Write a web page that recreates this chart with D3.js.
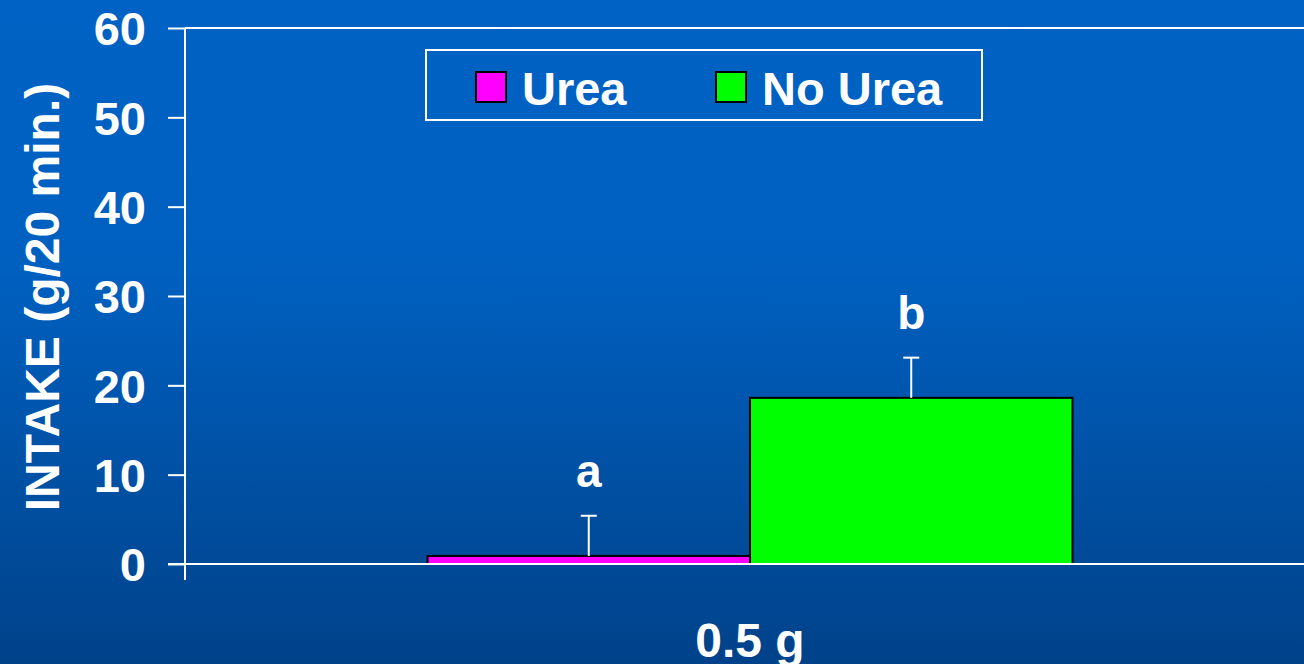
<!DOCTYPE html>
<html>
<head>
<meta charset="utf-8">
<script src="https://cdn.jsdelivr.net/npm/d3@7"></script>
<style>
  html, body { margin: 0; padding: 0; overflow: hidden; }
  svg { display: block; }
  text { font-family: "Liberation Sans", Arial, sans-serif; font-weight: bold; fill: #fff; }
</style>
</head>
<body>
<svg id="chart" width="1304" height="664"></svg>
<script>
// Intake per 20 min for the 0.5 g dose, with and without urea
const categories = ["0.5 g"];
const series = ["Urea", "No Urea"];
const means = [0.9, 18.6];
const errors = [4.5, 4.5];
const letters = ["a", "b"];
const yTicks = [0, 10, 20, 30, 40, 50, 60];
const colors = ["#ff00ff", "#00ff00"];

const W = 1304, H = 664;
const svg = d3.select("#chart");

// background gradient
const defs = svg.append("defs");
const grad = defs.append("linearGradient").attr("id", "bg")
  .attr("x1", 0).attr("y1", 0).attr("x2", 0).attr("y2", 1);
grad.append("stop").attr("offset", "0%").attr("stop-color", "#0062c4");
grad.append("stop").attr("offset", "40%").attr("stop-color", "#0060c0");
grad.append("stop").attr("offset", "100%").attr("stop-color", "#00428a");
svg.append("rect").attr("width", W).attr("height", H).attr("fill", "url(#bg)");

const plotLeft = 185, plotRight = 1315, plotTop = 28, plotBottom = 564;

const y = d3.scaleLinear().domain([0, 60]).range([plotBottom, plotTop]);
const x0 = d3.scaleBand().domain(categories).range([plotLeft, plotRight])
  .paddingInner(0).paddingOuter(0.376);
const x1 = d3.scaleBand().domain(series).range([0, x0.bandwidth()]);

// top frame line at 60
svg.append("line").attr("x1", plotLeft).attr("x2", W)
  .attr("y1", y(60)).attr("y2", y(60))
  .attr("stroke", "#fff").attr("stroke-width", 2);

// bars
const rows = series.map((s, i) => ({ s, mean: means[i], err: errors[i], letter: letters[i], color: colors[i] }));
const g = svg.append("g").attr("transform", `translate(${x0(categories[0])},0)`);
g.selectAll("rect.bar").data(rows).join("rect")
  .attr("class", "bar")
  .attr("x", d => x1(d.s))
  .attr("y", d => y(d.mean))
  .attr("width", x1.bandwidth())
  .attr("height", d => y(0) - y(d.mean))
  .attr("fill", d => d.color)
  .attr("stroke", "#000").attr("stroke-width", 2);

// error bars (upper only)
const eb = g.selectAll("g.err").data(rows).join("g").attr("class", "err");
eb.append("line")
  .attr("x1", d => x1(d.s) + x1.bandwidth() / 2)
  .attr("x2", d => x1(d.s) + x1.bandwidth() / 2)
  .attr("y1", d => y(d.mean))
  .attr("y2", d => y(d.mean + d.err))
  .attr("stroke", "#fff").attr("stroke-width", 2);
eb.append("line")
  .attr("x1", d => x1(d.s) + x1.bandwidth() / 2 - 8)
  .attr("x2", d => x1(d.s) + x1.bandwidth() / 2 + 8)
  .attr("y1", d => y(d.mean + d.err))
  .attr("y2", d => y(d.mean + d.err))
  .attr("stroke", "#fff").attr("stroke-width", 2);

// significance letters
g.selectAll("text.letter").data(rows).join("text")
  .attr("class", "letter")
  .attr("x", d => x1(d.s) + x1.bandwidth() / 2)
  .attr("y", d => y(d.mean + d.err) - 29)
  .attr("text-anchor", "middle")
  .style("font-size", "46px")
  .text(d => d.letter);

// y axis
const yAxis = svg.append("g").attr("transform", `translate(${plotLeft},0)`)
  .call(d3.axisLeft(y).tickValues(yTicks).tickSize(17).tickPadding(22));
yAxis.select(".domain").remove();
yAxis.append("line").attr("x1", 0).attr("x2", 0).attr("y1", plotTop).attr("y2", plotBottom + 16)
  .attr("stroke", "#fff").attr("stroke-width", 2);
yAxis.selectAll(".tick line").attr("stroke", "#fff").attr("stroke-width", 2);
yAxis.selectAll(".tick text")
  .attr("fill", "#fff")
  .style("font-family", "'Liberation Sans', Arial, sans-serif")
  .style("font-weight", "bold")
  .style("font-size", "47px")
  .attr("dy", "0.36em");

// x axis baseline
svg.append("line").attr("x1", plotLeft - 17).attr("x2", W)
  .attr("y1", y(0)).attr("y2", y(0))
  .attr("stroke", "#fff").attr("stroke-width", 2);

// x category label
svg.append("text")
  .attr("x", x0(categories[0]) + x0.bandwidth() / 2)
  .attr("y", 657)
  .attr("text-anchor", "middle")
  .style("font-size", "48px")
  .text(categories[0]);

// y axis title
svg.append("text")
  .attr("transform", `translate(59,297) rotate(-90)`)
  .attr("text-anchor", "middle")
  .style("font-size", "48px")
  .text("INTAKE (g/20 min.)");

// legend
const leg = svg.append("g");
leg.append("rect").attr("x", 426).attr("y", 50).attr("width", 556).attr("height", 70)
  .attr("fill", "none").attr("stroke", "#fff").attr("stroke-width", 2);
const legX = [476, 716];
series.forEach((s, i) => {
  leg.append("rect").attr("x", legX[i]).attr("y", 72).attr("width", 30).attr("height", 30)
    .attr("fill", colors[i]).attr("stroke", "#000").attr("stroke-width", 2);
  leg.append("text").attr("x", legX[i] + 46).attr("y", 105)
    .style("font-size", "47px").text(s);
});
</script>
</body>
</html>
